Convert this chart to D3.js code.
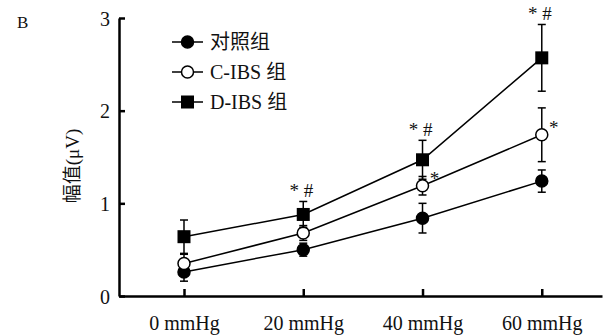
<!DOCTYPE html>
<html>
<head>
<meta charset="utf-8">
<script src="https://cdn.jsdelivr.net/npm/d3@7"></script>
<style>
  body { margin: 0; background: #fff; }
  text { font-family: "Liberation Serif", "Noto Sans CJK SC", serif; fill: #111; }
  .cjk { font-family: "Noto Sans CJK SC", sans-serif; }
</style>
</head>
<body>
<svg id="chart" width="606" height="336"></svg>
<script>
// pressures (mmHg) and group means / SD
var pressures = [0, 20, 40, 60];
var tickLabels = ["0 mmHg", "20 mmHg", "40 mmHg", "60 mmHg"];
var groups = ["对照组", "C-IBS 组", "D-IBS 组"];
var controlMean = [0.26, 0.50, 0.84, 1.24];
var controlErr  = [0.10, 0.07, 0.16, 0.12];
var cibsMean    = [0.35, 0.68, 1.19, 1.74];
var cibsErr     = [0.10, 0.08, 0.10, 0.29];
var dibsMean    = [0.64, 0.88, 1.47, 2.57];
var dibsErr     = [0.18, 0.14, 0.21, 0.36];
var dibsMarks   = ["", "* #", "* #", "* #"];
var cibsMarks   = ["", "", "*", "*"];

var svg = d3.select("#chart");

var x = d3.scaleLinear().domain([-10.9, 70.1]).range([119, 602]);
var y = d3.scaleLinear().domain([0, 3]).range([296, 18]);

// panel letter
svg.append("text").attr("x", 17).attr("y", 28).style("font-size", "17px").text("B");

// y axis
var yAxis = svg.append("g").attr("transform", "translate(119,0)")
    .call(d3.axisLeft(y).tickValues([0, 1, 2, 3]).tickFormat(d3.format("d")).tickSizeInner(-6).tickSizeOuter(0).tickPadding(9));
yAxis.select(".domain").attr("stroke-width", 2.5);
yAxis.selectAll(".tick line").attr("stroke-width", 2.5);
yAxis.selectAll(".tick text").style("font-size", "20px").attr("dy", "0.35em");

// x axis
var xAxis = svg.append("g").attr("transform", "translate(0,296)")
    .call(d3.axisBottom(x).tickValues(pressures).tickFormat(function(d, i) { return tickLabels[i]; })
        .tickSizeInner(-7).tickSizeOuter(0).tickPadding(20));
xAxis.select(".domain").attr("stroke-width", 2.5);
xAxis.selectAll(".tick line").attr("stroke-width", 2.5);
xAxis.selectAll(".tick text").style("font-size", "20px");

// y label
svg.append("text")
    .attr("transform", "translate(72,166) rotate(-90)")
    .attr("text-anchor", "middle")
    .attr("dy", "0.35em")
    .style("font-size", "19px")
    .text("幅值(μV)");

var series = [
    {mean: controlMean, err: controlErr, marker: "filled"},
    {mean: cibsMean, err: cibsErr, marker: "open"},
    {mean: dibsMean, err: dibsErr, marker: "square"}
];

var line = d3.line().x(function(d, i) { return x(pressures[i]); }).y(function(d) { return y(d); });

function drawMarker(g, type, cx, cy) {
    if (type === "square") {
        g.append("rect").attr("x", cx - 6.5).attr("y", cy - 6.5).attr("width", 13).attr("height", 13).attr("fill", "#000");
    } else {
        g.append("circle").attr("cx", cx).attr("cy", cy).attr("r", 6)
            .attr("fill", type === "filled" ? "#000" : "#fff")
            .attr("stroke", "#000").attr("stroke-width", 1.5);
    }
}

series.forEach(function(s) {
    var g = svg.append("g");
    // error bars
    s.mean.forEach(function(m, i) {
        var cx = x(pressures[i]);
        var top = y(m + s.err[i]), bot = y(m - s.err[i]);
        g.append("line").attr("x1", cx).attr("x2", cx).attr("y1", top).attr("y2", bot).attr("stroke", "#000").attr("stroke-width", 1.5);
        [top, bot].forEach(function(yy) {
            g.append("line").attr("x1", cx - 4).attr("x2", cx + 4).attr("y1", yy).attr("y2", yy).attr("stroke", "#000").attr("stroke-width", 1.5);
        });
    });
    g.append("path").attr("d", line(s.mean)).attr("fill", "none").attr("stroke", "#000").attr("stroke-width", 1.5);
    s.mean.forEach(function(m, i) { drawMarker(g, s.marker, x(pressures[i]), y(m)); });
});

// significance marks
dibsMarks.forEach(function(t, i) {
    if (!t) return;
    svg.append("text").attr("x", x(pressures[i]) - 2).attr("y", y(dibsMean[i] + dibsErr[i]) - 4)
        .attr("text-anchor", "middle").style("font-size", "19px").text(t);
});
cibsMarks.forEach(function(t, i) {
    if (!t) return;
    svg.append("text").attr("x", x(pressures[i]) + 12).attr("y", y(cibsMean[i]) - 1)
        .attr("text-anchor", "middle").style("font-size", "19px").text(t);
});

// legend: latin part in serif, CJK part separately
var markers = ["filled", "open", "square"];
groups.forEach(function(name, i) {
    var ly = 42 + i * 30;
    var g = svg.append("g");
    g.append("line").attr("x1", 172).attr("x2", 203).attr("y1", ly).attr("y2", ly).attr("stroke", "#000").attr("stroke-width", 1.5);
    drawMarker(g, markers[i], 187.5, ly);
    var t = g.append("text").attr("x", 210).attr("y", ly).attr("dy", "0.35em").style("font-size", "20px");
    var parts = name.match(/[\u4e00-\u9fff]+|[^\u4e00-\u9fff]+/g);
    parts.forEach(function(p) {
        t.append("tspan").attr("class", /[\u4e00-\u9fff]/.test(p) ? "cjk" : null).text(p);
    });
});
</script>
</body>
</html>
